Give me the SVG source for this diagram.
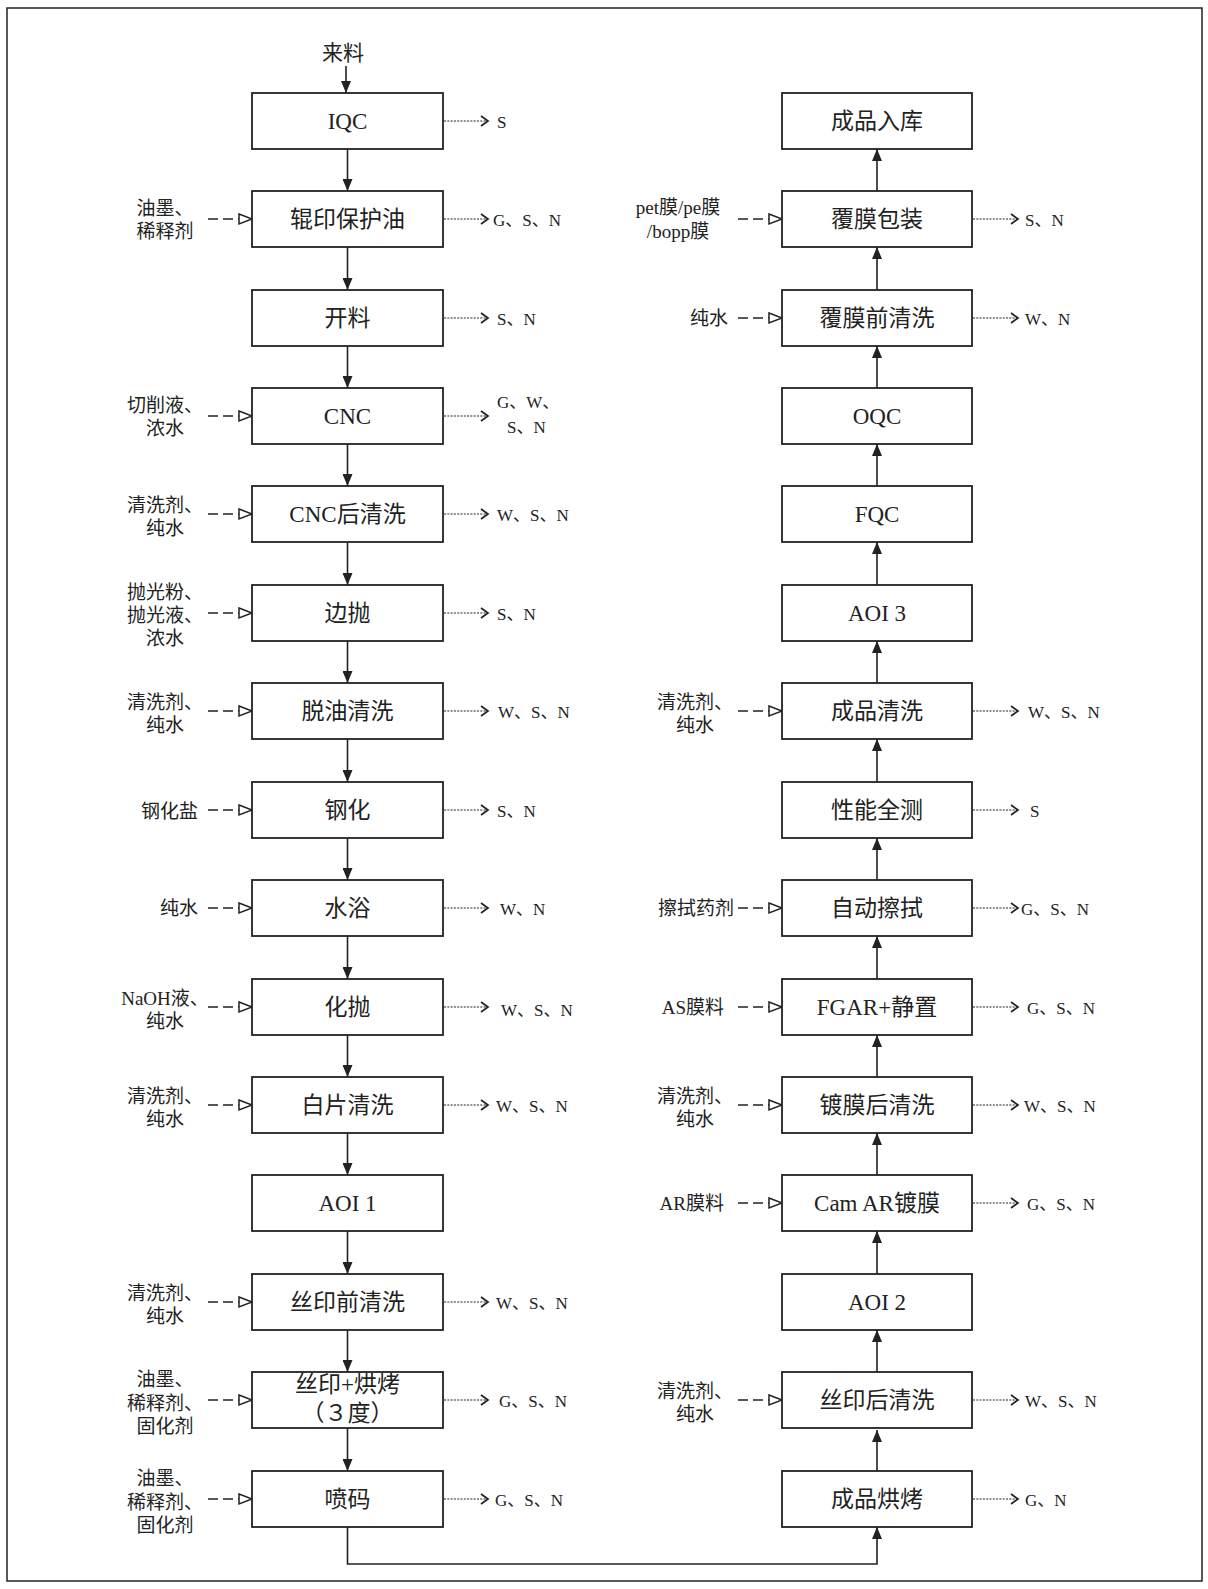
<svg xmlns="http://www.w3.org/2000/svg" width="1208" height="1589" viewBox="0 0 1208 1589">
<style>
.bg{fill:#fff}
.frame{fill:none;stroke:#222;stroke-width:1.5}
.box{fill:#fff;stroke:#222;stroke-width:1.8}
.bt{font-family:"Liberation Serif","Noto Sans CJK SC",serif;font-size:23px;fill:#222;text-anchor:middle}
.in{font-family:"Liberation Serif","Noto Sans CJK SC",serif;font-size:19px;fill:#222}
.mid{text-anchor:middle}
.end{text-anchor:end}
.out{font-family:"Liberation Serif","Noto Sans CJK SC",serif;font-size:17px;fill:#222}
.flow{fill:none;stroke:#222;stroke-width:1.6}
.inp{fill:none;stroke:#222;stroke-width:1.6;stroke-dasharray:10 5}
.em{fill:none;stroke:#222;stroke-width:1.2;stroke-dasharray:2 1.3}
.full{font-family:"Noto Sans CJK SC",sans-serif;text-spacing-trim:space-all;font-variant-east-asian:full-width}
</style>
<defs>
<marker id="solid" markerUnits="userSpaceOnUse" markerWidth="12" markerHeight="10" refX="12" refY="5" orient="auto">
<path d="M0,0 L12,5 L0,10 Z" fill="#222"/>
</marker>
<marker id="open" markerUnits="userSpaceOnUse" markerWidth="16" markerHeight="13" refX="14" refY="6.5" orient="auto">
<path d="M1,1.5 L14,6.5 L1,11.5 Z" fill="#fff" stroke="#222" stroke-width="1.5"/>
</marker>
<marker id="chev" markerUnits="userSpaceOnUse" markerWidth="10" markerHeight="12" refX="8" refY="6" orient="auto">
<path d="M1,1 L8,6 L1,11" fill="none" stroke="#222" stroke-width="1.7"/>
</marker>
</defs>
<rect class="bg" x="0" y="0" width="1208" height="1589"/>
<rect class="frame" x="7" y="8" width="1195" height="1573"/>

<g id="connectors">
<path class="flow" d="M346,66 V93" marker-end="url(#solid)"/>
<path class="flow" d="M347.5,149 V191" marker-end="url(#solid)"/>
<path class="flow" d="M347.5,247 V290" marker-end="url(#solid)"/>
<path class="flow" d="M347.5,346 V388" marker-end="url(#solid)"/>
<path class="flow" d="M347.5,444 V486" marker-end="url(#solid)"/>
<path class="flow" d="M347.5,542 V585" marker-end="url(#solid)"/>
<path class="flow" d="M347.5,641 V683" marker-end="url(#solid)"/>
<path class="flow" d="M347.5,739 V782" marker-end="url(#solid)"/>
<path class="flow" d="M347.5,838 V880" marker-end="url(#solid)"/>
<path class="flow" d="M347.5,936 V979" marker-end="url(#solid)"/>
<path class="flow" d="M347.5,1035 V1077" marker-end="url(#solid)"/>
<path class="flow" d="M347.5,1133 V1175" marker-end="url(#solid)"/>
<path class="flow" d="M347.5,1231 V1274" marker-end="url(#solid)"/>
<path class="flow" d="M347.5,1330 V1372" marker-end="url(#solid)"/>
<path class="flow" d="M347.5,1428 V1471" marker-end="url(#solid)"/>
<path class="flow" d="M347.5,1527 V1564 H877 V1527" marker-end="url(#solid)"/>
<path class="flow" d="M877,1471 V1430" marker-end="url(#solid)"/>
<path class="flow" d="M877,1372 V1330" marker-end="url(#solid)"/>
<path class="flow" d="M877,1274 V1231" marker-end="url(#solid)"/>
<path class="flow" d="M877,1175 V1133" marker-end="url(#solid)"/>
<path class="flow" d="M877,1077 V1035" marker-end="url(#solid)"/>
<path class="flow" d="M877,979 V936" marker-end="url(#solid)"/>
<path class="flow" d="M877,880 V838" marker-end="url(#solid)"/>
<path class="flow" d="M877,782 V739" marker-end="url(#solid)"/>
<path class="flow" d="M877,683 V641" marker-end="url(#solid)"/>
<path class="flow" d="M877,585 V542" marker-end="url(#solid)"/>
<path class="flow" d="M877,486 V444" marker-end="url(#solid)"/>
<path class="flow" d="M877,388 V346" marker-end="url(#solid)"/>
<path class="flow" d="M877,290 V247" marker-end="url(#solid)"/>
<path class="flow" d="M877,191 V149" marker-end="url(#solid)"/>

<path class="inp" d="M208,219 H252" marker-end="url(#open)"/>
<path class="inp" d="M208,416 H252" marker-end="url(#open)"/>
<path class="inp" d="M208,514 H252" marker-end="url(#open)"/>
<path class="inp" d="M208,613 H252" marker-end="url(#open)"/>
<path class="inp" d="M208,711 H252" marker-end="url(#open)"/>
<path class="inp" d="M208,810 H252" marker-end="url(#open)"/>
<path class="inp" d="M208,908 H252" marker-end="url(#open)"/>
<path class="inp" d="M208,1007 H252" marker-end="url(#open)"/>
<path class="inp" d="M208,1105 H252" marker-end="url(#open)"/>
<path class="inp" d="M208,1302 H252" marker-end="url(#open)"/>
<path class="inp" d="M208,1400 H252" marker-end="url(#open)"/>
<path class="inp" d="M208,1499 H252" marker-end="url(#open)"/>
<path class="inp" d="M738,219 H782" marker-end="url(#open)"/>
<path class="inp" d="M738,318 H782" marker-end="url(#open)"/>
<path class="inp" d="M738,711 H782" marker-end="url(#open)"/>
<path class="inp" d="M738,908 H782" marker-end="url(#open)"/>
<path class="inp" d="M738,1007 H782" marker-end="url(#open)"/>
<path class="inp" d="M738,1105 H782" marker-end="url(#open)"/>
<path class="inp" d="M738,1203 H782" marker-end="url(#open)"/>
<path class="inp" d="M738,1400 H782" marker-end="url(#open)"/>

<path class="em" d="M444,121 H488" marker-end="url(#chev)"/>
<path class="em" d="M444,219 H488" marker-end="url(#chev)"/>
<path class="em" d="M444,318 H488" marker-end="url(#chev)"/>
<path class="em" d="M444,416 H488" marker-end="url(#chev)"/>
<path class="em" d="M444,514 H488" marker-end="url(#chev)"/>
<path class="em" d="M444,613 H488" marker-end="url(#chev)"/>
<path class="em" d="M444,711 H488" marker-end="url(#chev)"/>
<path class="em" d="M444,810 H488" marker-end="url(#chev)"/>
<path class="em" d="M444,908 H488" marker-end="url(#chev)"/>
<path class="em" d="M444,1007 H488" marker-end="url(#chev)"/>
<path class="em" d="M444,1105 H488" marker-end="url(#chev)"/>
<path class="em" d="M444,1302 H488" marker-end="url(#chev)"/>
<path class="em" d="M444,1400 H488" marker-end="url(#chev)"/>
<path class="em" d="M444,1499 H488" marker-end="url(#chev)"/>
<path class="em" d="M973,219 H1018" marker-end="url(#chev)"/>
<path class="em" d="M973,318 H1018" marker-end="url(#chev)"/>
<path class="em" d="M973,711 H1018" marker-end="url(#chev)"/>
<path class="em" d="M973,810 H1018" marker-end="url(#chev)"/>
<path class="em" d="M973,908 H1018" marker-end="url(#chev)"/>
<path class="em" d="M973,1007 H1018" marker-end="url(#chev)"/>
<path class="em" d="M973,1105 H1018" marker-end="url(#chev)"/>
<path class="em" d="M973,1203 H1018" marker-end="url(#chev)"/>
<path class="em" d="M973,1400 H1018" marker-end="url(#chev)"/>
<path class="em" d="M973,1499 H1018" marker-end="url(#chev)"/>
</g>

<g id="source"><text class="bt" x="343" y="60" style="font-size:21px">来料</text></g>

<g id="L0"><rect class="box" x="252" y="93" width="191" height="56"/><text class="bt" x="347.5" y="129">IQC</text><text class="out" x="497" y="128">S</text></g>
<g id="L1"><rect class="box" x="252" y="191" width="191" height="56"/><text class="bt" x="347.5" y="227">辊印保护油</text>
<text class="in mid" x="165" y="215">油墨、<tspan x="165" dy="23">稀释剂</tspan></text><text class="out" x="493" y="226">G、S、N</text></g>
<g id="L2"><rect class="box" x="252" y="290" width="191" height="56"/><text class="bt" x="347.5" y="326">开料</text><text class="out" x="497" y="325">S、N</text></g>
<g id="L3"><rect class="box" x="252" y="388" width="191" height="56"/><text class="bt" x="347.5" y="424">CNC</text>
<text class="in mid" x="165" y="412">切削液、<tspan x="165" dy="23">浓水</tspan></text>
<text class="out" x="497" y="408">G、W、<tspan x="507" dy="25">S、N</tspan></text></g>
<g id="L4"><rect class="box" x="252" y="486" width="191" height="56"/><text class="bt" x="347.5" y="522">CNC后清洗</text>
<text class="in mid" x="165" y="512">清洗剂、<tspan x="165" dy="23">纯水</tspan></text><text class="out" x="497" y="521">W、S、N</text></g>
<g id="L5"><rect class="box" x="252" y="585" width="191" height="56"/><text class="bt" x="347.5" y="621">边抛</text>
<text class="in mid" x="165" y="599">抛光粉、<tspan x="165" dy="23">抛光液、</tspan><tspan x="165" dy="23">浓水</tspan></text><text class="out" x="497" y="620">S、N</text></g>
<g id="L6"><rect class="box" x="252" y="683" width="191" height="56"/><text class="bt" x="347.5" y="719">脱油清洗</text>
<text class="in mid" x="165" y="709">清洗剂、<tspan x="165" dy="23">纯水</tspan></text><text class="out" x="498" y="718">W、S、N</text></g>
<g id="L7"><rect class="box" x="252" y="782" width="191" height="56"/><text class="bt" x="347.5" y="818">钢化</text>
<text class="in end" x="198" y="818">钢化盐</text><text class="out" x="497" y="817">S、N</text></g>
<g id="L8"><rect class="box" x="252" y="880" width="191" height="56"/><text class="bt" x="347.5" y="916">水浴</text>
<text class="in end" x="198" y="915">纯水</text><text class="out" x="500" y="915">W、N</text></g>
<g id="L9"><rect class="box" x="252" y="979" width="191" height="56"/><text class="bt" x="347.5" y="1015">化抛</text>
<text class="in mid" x="165" y="1005">NaOH液、<tspan x="165" dy="23">纯水</tspan></text><text class="out" x="501" y="1016">W、S、N</text></g>
<g id="L10"><rect class="box" x="252" y="1077" width="191" height="56"/><text class="bt" x="347.5" y="1113">白片清洗</text>
<text class="in mid" x="165" y="1103">清洗剂、<tspan x="165" dy="23">纯水</tspan></text><text class="out" x="496" y="1112">W、S、N</text></g>
<g id="L11"><rect class="box" x="252" y="1175" width="191" height="56"/><text class="bt" x="347.5" y="1211">AOI 1</text></g>
<g id="L12"><rect class="box" x="252" y="1274" width="191" height="56"/><text class="bt" x="347.5" y="1310">丝印前清洗</text>
<text class="in mid" x="165" y="1300">清洗剂、<tspan x="165" dy="23">纯水</tspan></text><text class="out" x="496" y="1309">W、S、N</text></g>
<g id="L13"><rect class="box" x="252" y="1372" width="191" height="56"/><text class="bt" x="347.5" y="1392">丝印+烘烤<tspan class="full" x="347.5" dy="29">（3度）</tspan></text>
<text class="in mid" x="165" y="1386">油墨、<tspan x="165" dy="23.5">稀释剂、</tspan><tspan x="165" dy="23.5">固化剂</tspan></text><text class="out" x="499" y="1407">G、S、N</text></g>
<g id="L14"><rect class="box" x="252" y="1471" width="191" height="56"/><text class="bt" x="347.5" y="1507">喷码</text>
<text class="in mid" x="165" y="1485">油墨、<tspan x="165" dy="23.5">稀释剂、</tspan><tspan x="165" dy="23.5">固化剂</tspan></text><text class="out" x="495" y="1506">G、S、N</text></g>

<g id="R0"><rect class="box" x="782" y="93" width="190" height="56"/><text class="bt" x="877" y="129">成品入库</text></g>
<g id="R1"><rect class="box" x="782" y="191" width="190" height="56"/><text class="bt" x="877" y="227">覆膜包装</text>
<text class="in mid" x="678" y="214">pet膜/pe膜<tspan x="678" dy="24">/bopp膜</tspan></text><text class="out" x="1025" y="226">S、N</text></g>
<g id="R2"><rect class="box" x="782" y="290" width="190" height="56"/><text class="bt" x="877" y="326">覆膜前清洗</text>
<text class="in end" x="728" y="325">纯水</text><text class="out" x="1025" y="325">W、N</text></g>
<g id="R3"><rect class="box" x="782" y="388" width="190" height="56"/><text class="bt" x="877" y="424">OQC</text></g>
<g id="R4"><rect class="box" x="782" y="486" width="190" height="56"/><text class="bt" x="877" y="522">FQC</text></g>
<g id="R5"><rect class="box" x="782" y="585" width="190" height="56"/><text class="bt" x="877" y="621">AOI 3</text></g>
<g id="R6"><rect class="box" x="782" y="683" width="190" height="56"/><text class="bt" x="877" y="719">成品清洗</text>
<text class="in mid" x="695" y="709">清洗剂、<tspan x="695" dy="23">纯水</tspan></text><text class="out" x="1028" y="718">W、S、N</text></g>
<g id="R7"><rect class="box" x="782" y="782" width="190" height="56"/><text class="bt" x="877" y="818">性能全测</text><text class="out" x="1030" y="817">S</text></g>
<g id="R8"><rect class="box" x="782" y="880" width="190" height="56"/><text class="bt" x="877" y="916">自动擦拭</text>
<text class="in end" x="734" y="915">擦拭药剂</text><text class="out" x="1021" y="915">G、S、N</text></g>
<g id="R9"><rect class="box" x="782" y="979" width="190" height="56"/><text class="bt" x="877" y="1015">FGAR+静置</text>
<text class="in end" x="724" y="1014">AS膜料</text><text class="out" x="1027" y="1014">G、S、N</text></g>
<g id="R10"><rect class="box" x="782" y="1077" width="190" height="56"/><text class="bt" x="877" y="1113">镀膜后清洗</text>
<text class="in mid" x="695" y="1103">清洗剂、<tspan x="695" dy="23">纯水</tspan></text><text class="out" x="1024" y="1112">W、S、N</text></g>
<g id="R11"><rect class="box" x="782" y="1175" width="190" height="56"/><text class="bt" x="877" y="1211">Cam AR镀膜</text>
<text class="in end" x="724" y="1210">AR膜料</text><text class="out" x="1027" y="1210">G、S、N</text></g>
<g id="R12"><rect class="box" x="782" y="1274" width="190" height="56"/><text class="bt" x="877" y="1310">AOI 2</text></g>
<g id="R13"><rect class="box" x="782" y="1372" width="190" height="56"/><text class="bt" x="877" y="1408">丝印后清洗</text>
<text class="in mid" x="695" y="1398">清洗剂、<tspan x="695" dy="23">纯水</tspan></text><text class="out" x="1025" y="1407">W、S、N</text></g>
<g id="R14"><rect class="box" x="782" y="1471" width="190" height="56"/><text class="bt" x="877" y="1507">成品烘烤</text><text class="out" x="1025" y="1506">G、N</text></g>
</svg>
